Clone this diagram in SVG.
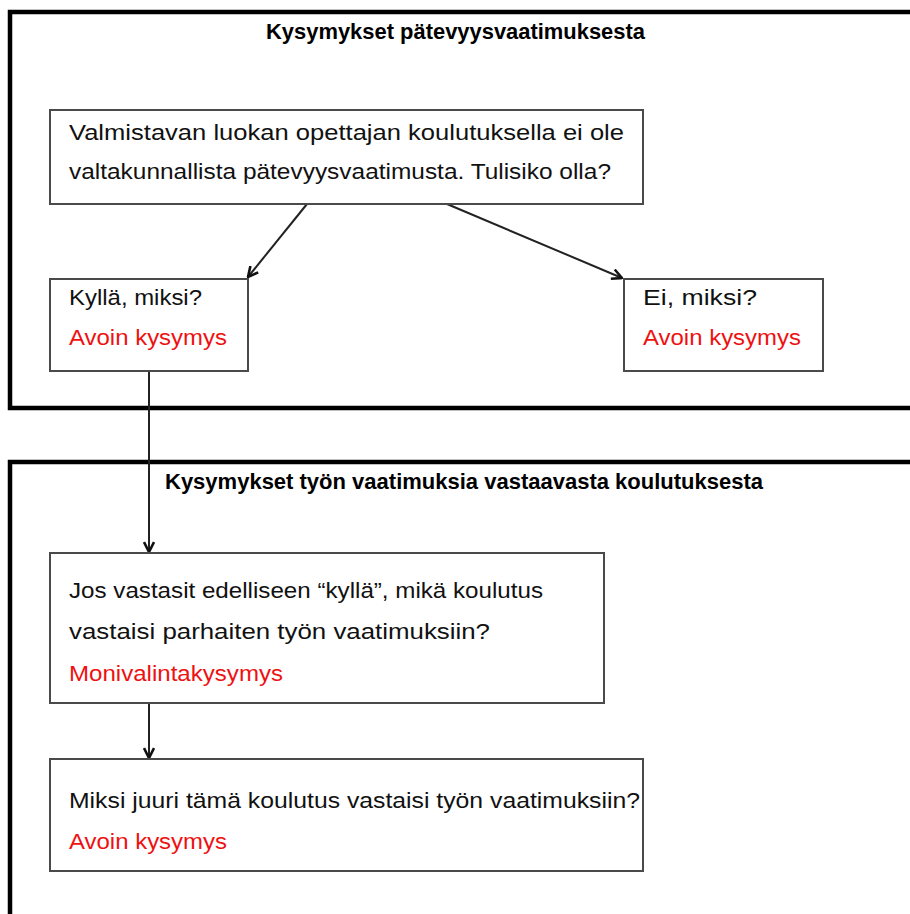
<svg xmlns="http://www.w3.org/2000/svg" width="910" height="914" viewBox="0 0 910 914">
<defs>
<style>
.frame{fill:none;stroke:#000;stroke-width:4.5}
.box{fill:#fff;stroke:#4a4a4a;stroke-width:2}
text{font-family:"Liberation Sans",Arial,sans-serif}
.t{font-size:22px;fill:#111}
.r{font-size:22px;fill:#ee1111}
.h{font-size:21.5px;font-weight:bold;fill:#000}
.c{fill:none;stroke:#222;stroke-width:2}
</style>
<marker id="ah" viewBox="0 0 12 12" refX="11" refY="6" markerWidth="12" markerHeight="12" markerUnits="userSpaceOnUse" orient="auto">
<path d="M1,1 L11,6 L1,11" fill="none" stroke="#111" stroke-width="2.6"/>
</marker>
</defs>
<rect width="910" height="914" fill="#fff"/>
<g id="frame1">
<rect class="frame" x="10" y="12" width="920" height="396"/>
<text class="h" x="266" y="39" textLength="379" lengthAdjust="spacingAndGlyphs">Kysymykset pätevyysvaatimuksesta</text>
</g>
<g id="frame2">
<rect class="frame" x="10" y="462" width="920" height="480"/>
<text class="h" x="165" y="489" textLength="598" lengthAdjust="spacingAndGlyphs">Kysymykset työn vaatimuksia vastaavasta koulutuksesta</text>
</g>
<g id="connectors">
<line class="c" x1="307" y1="204" x2="248" y2="277" marker-end="url(#ah)"/>
<line class="c" x1="447" y1="204" x2="622" y2="278" marker-end="url(#ah)"/>
<line class="c" x1="149" y1="371" x2="149" y2="552" marker-end="url(#ah)"/>
<line class="c" x1="149" y1="703" x2="149" y2="758" marker-end="url(#ah)"/>
</g>
<g id="q1">
<rect class="box" x="50" y="110" width="593" height="94"/>
<text class="t" x="69" y="140" textLength="555" lengthAdjust="spacingAndGlyphs">Valmistavan luokan opettajan koulutuksella ei ole</text>
<text class="t" x="69" y="179" textLength="542" lengthAdjust="spacingAndGlyphs">valtakunnallista pätevyysvaatimusta. Tulisiko olla?</text>
</g>
<g id="yes">
<rect class="box" x="50" y="279" width="198" height="92"/>
<text class="t" x="69" y="305" textLength="133" lengthAdjust="spacingAndGlyphs">Kyllä, miksi?</text>
<text class="r" x="69" y="345" textLength="158" lengthAdjust="spacingAndGlyphs">Avoin kysymys</text>
</g>
<g id="no">
<rect class="box" x="624" y="279" width="199" height="92"/>
<text class="t" x="643" y="305" textLength="114" lengthAdjust="spacingAndGlyphs">Ei, miksi?</text>
<text class="r" x="643" y="345" textLength="158" lengthAdjust="spacingAndGlyphs">Avoin kysymys</text>
</g>
<g id="q2">
<rect class="box" x="50" y="553" width="554" height="150"/>
<text class="t" x="69" y="598" textLength="474" lengthAdjust="spacingAndGlyphs">Jos vastasit edelliseen “kyllä”, mikä koulutus</text>
<text class="t" x="69" y="639" textLength="421" lengthAdjust="spacingAndGlyphs">vastaisi parhaiten työn vaatimuksiin?</text>
<text class="r" x="69" y="681" textLength="214" lengthAdjust="spacingAndGlyphs">Monivalintakysymys</text>
</g>
<g id="q3">
<rect class="box" x="50" y="759" width="593" height="112"/>
<text class="t" x="69" y="808" textLength="571" lengthAdjust="spacingAndGlyphs">Miksi juuri tämä koulutus vastaisi työn vaatimuksiin?</text>
<text class="r" x="69" y="849" textLength="158" lengthAdjust="spacingAndGlyphs">Avoin kysymys</text>
</g>
</svg>
